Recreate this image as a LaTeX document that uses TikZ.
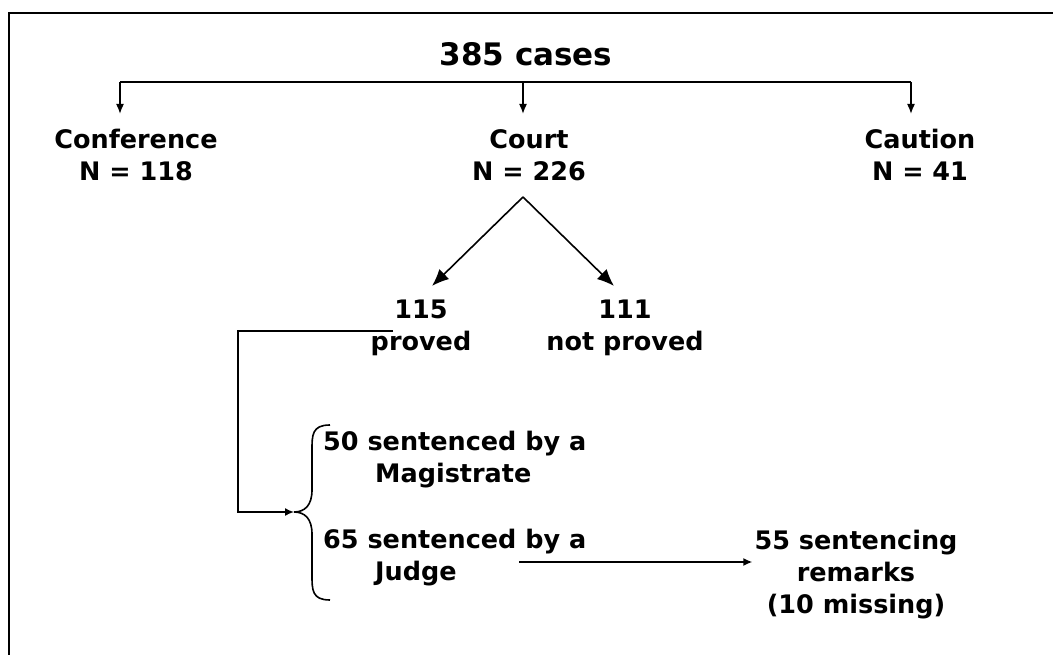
\documentclass[tikz,border=0pt]{standalone}
\usepackage{fontspec}
\setmainfont{DejaVu Sans}
\usetikzlibrary{arrows.meta, positioning}

\begin{document}
\begin{tikzpicture}[x=1pt,y=-1pt,
        every node/.style={font=\bfseries\fontsize{25.5}{32}\selectfont,inner sep=2pt},
        branch/.style={-{Latex[length=10,width=8]},line width=1.6pt},
        split/.style={-{Latex[length=17,width=14]},line width=1.6pt},
        feed/.style={-{Latex[length=9,width=8]},line width=1.6pt}]
        \useasboundingbox (0,0) rectangle (1053,655);
        % Frame
        \draw[line width=2.4pt] (1053,13) -- (9,13) -- (9,655);

        % Top level
        \node (total) at (526,54) {\fontsize{31}{34}\selectfont 385 cases};
        \coordinate (barL) at (120,82);
        \coordinate (barM) at (523,82);
        \coordinate (barR) at (911,82);
        \node[align=center] (conf) at (136,155) {Conference\\N = 118};
        \node[align=center] (court) at (529,155) {Court\\N = 226};
        \node[align=center] (caut) at (920,155) {Caution\\N = 41};
        \draw[line width=1.6pt] (barL) -- (barR);
        \draw[branch] (barL) -- (barL |- 0,114);
        \draw[branch] (barM) -- (barM |- 0,114);
        \draw[branch] (barR) -- (barR |- 0,114);

        % Court outcomes
        \coordinate (apex) at (523,197);
        \node[align=center] (proved) at (421,328) {115\\proved};
        \node[align=center] (notp) at (625,328) {111\\not proved};
        \draw[split] (apex) -- (432,286);
        \draw[split] (apex) -- (614,286);

        % Sentencing
        \coordinate (tip) at (294,512);
        \draw[line width=1.6pt] (330,425) .. controls (312,425) and (312,435) .. (312,450)
            -- (312,490) .. controls (312,505) and (305,512) .. (tip)
            .. controls (305,512) and (312,519) .. (312,534)
            -- (312,575) .. controls (312,590) and (312,600) .. (330,600);
        \draw[feed] (393,331) -- (238,331) -- (238,512) -- (tip);
        \node[anchor=west,align=left] (mag) at (321,460) {50 sentenced by a\\\hspace*{52pt}Magistrate};
        \node[anchor=west,align=left] (judge) at (321,558) {65 sentenced by a\\\hspace*{52pt}Judge};
        \node[align=center] (remarks) at (856,575) {55 sentencing\\remarks\\(10 missing)};
        \draw[feed] (519,562) -- (remarks.west |- 0,562);
\end{tikzpicture}
\end{document}
